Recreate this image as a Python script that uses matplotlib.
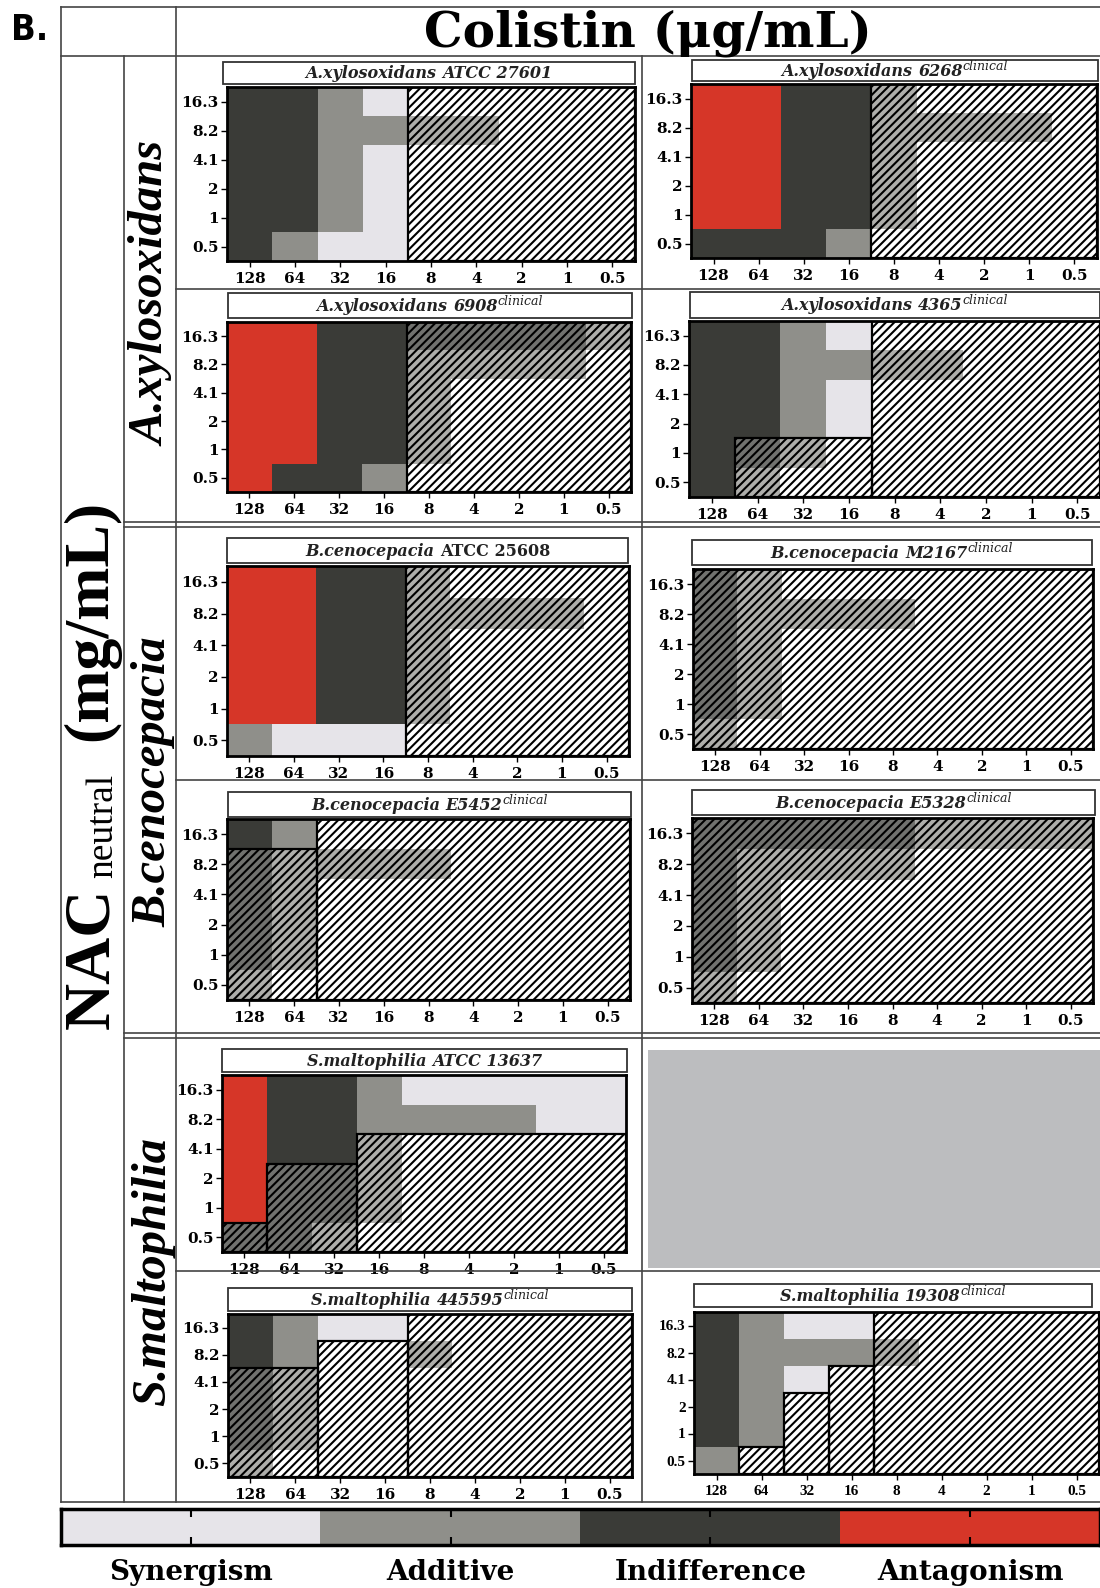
import numpy as np
import matplotlib
matplotlib.use("Agg")
import matplotlib.pyplot as plt
from matplotlib.colors import ListedColormap, to_rgb
from matplotlib.patches import Rectangle
from matplotlib.lines import Line2D

plt.rcParams['font.family'] = ['DejaVu Serif']
plt.rcParams['mathtext.fontset'] = 'dejavuserif'
plt.rcParams['hatch.linewidth'] = 1.5

# ---------------- data ----------------
colistin_ticks = ['128', '64', '32', '16', '8', '4', '2', '1', '0.5']
nac_ticks = ['16.3', '8.2', '4.1', '2', '1', '0.5']          # top -> bottom
categories = ['Synergism', 'Additive', 'Indifference', 'Antagonism']
title_species = ['A.xylosoxidans', 'A.xylosoxidans', 'A.xylosoxidans', 'A.xylosoxidans',
                 'B.cenocepacia', 'B.cenocepacia', 'B.cenocepacia', 'B.cenocepacia',
                 'S.maltophilia', 'S.maltophilia', 'S.maltophilia']
title_strain = ['ATCC 27601', '6268', '6908', '4365', 'ATCC 25608', 'M2167', 'E5452',
                'E5328', 'ATCC 13637', '445595', '19308']
title_sup = ['', 'clinical', 'clinical', 'clinical', '', 'clinical', 'clinical',
             'clinical', '', 'clinical', 'clinical']
strain_italic = [True, True, True, True, False, True, True, True, True, True, True]

# codes: 0 synergism, 1 additive, 2 indifference, 3 antagonism, -1 none
grid_27601 = [[2, 2, 1, 0, -1, -1, -1, -1, -1],
              [2, 2, 1, 1, 1, 1, -1, -1, -1],
              [2, 2, 1, 0, -1, -1, -1, -1, -1],
              [2, 2, 1, 0, -1, -1, -1, -1, -1],
              [2, 2, 1, 0, -1, -1, -1, -1, -1],
              [2, 1, 0, 0, -1, -1, -1, -1, -1]]
hatch_27601 = [0, 0, 0, 0, 6, 6, 6, 6, 6]

grid_6268 = [[3, 3, 2, 2, 1, -1, -1, -1, -1],
             [3, 3, 2, 2, 1, 1, 1, 1, -1],
             [3, 3, 2, 2, 1, -1, -1, -1, -1],
             [3, 3, 2, 2, 1, -1, -1, -1, -1],
             [3, 3, 2, 2, 1, -1, -1, -1, -1],
             [2, 2, 2, 1, -1, -1, -1, -1, -1]]
hatch_6268 = [0, 0, 0, 0, 6, 6, 6, 6, 6]

grid_6908 = [[3, 3, 2, 2, 2, 2, 2, 2, 1],
             [3, 3, 2, 2, 1, 1, 1, 1, -1],
             [3, 3, 2, 2, 1, -1, -1, -1, -1],
             [3, 3, 2, 2, 1, -1, -1, -1, -1],
             [3, 3, 2, 2, 1, -1, -1, -1, -1],
             [3, 2, 2, 1, -1, -1, -1, -1, -1]]
hatch_6908 = [0, 0, 0, 0, 6, 6, 6, 6, 6]

grid_4365 = [[2, 2, 1, 0, -1, -1, -1, -1, -1],
             [2, 2, 1, 1, 1, 1, -1, -1, -1],
             [2, 2, 1, 0, -1, -1, -1, -1, -1],
             [2, 2, 1, 0, -1, -1, -1, -1, -1],
             [2, 2, 1, -1, -1, -1, -1, -1, -1],
             [2, 1, -1, -1, -1, -1, -1, -1, -1]]
hatch_4365 = [0, 2, 2, 2, 6, 6, 6, 6, 6]

grid_25608 = [[3, 3, 2, 2, 1, -1, -1, -1, -1],
              [3, 3, 2, 2, 1, 1, 1, 1, -1],
              [3, 3, 2, 2, 1, -1, -1, -1, -1],
              [3, 3, 2, 2, 1, -1, -1, -1, -1],
              [3, 3, 2, 2, 1, -1, -1, -1, -1],
              [1, 0, 0, 0, -1, -1, -1, -1, -1]]
hatch_25608 = [0, 0, 0, 0, 6, 6, 6, 6, 6]

grid_M2167 = [[2, 1, -1, -1, -1, -1, -1, -1, -1],
              [2, 1, 1, 1, 1, -1, -1, -1, -1],
              [2, 1, -1, -1, -1, -1, -1, -1, -1],
              [2, 1, -1, -1, -1, -1, -1, -1, -1],
              [2, 1, -1, -1, -1, -1, -1, -1, -1],
              [1, -1, -1, -1, -1, -1, -1, -1, -1]]
hatch_M2167 = [6, 6, 6, 6, 6, 6, 6, 6, 6]

grid_E5452 = [[2, 1, -1, -1, -1, -1, -1, -1, -1],
              [2, 1, 1, 1, 1, -1, -1, -1, -1],
              [2, 1, -1, -1, -1, -1, -1, -1, -1],
              [2, 1, -1, -1, -1, -1, -1, -1, -1],
              [2, 1, -1, -1, -1, -1, -1, -1, -1],
              [1, -1, -1, -1, -1, -1, -1, -1, -1]]
hatch_E5452 = [5, 5, 6, 6, 6, 6, 6, 6, 6]

grid_E5328 = [[2, 2, 2, 2, 2, 1, 1, 1, 1],
              [2, 1, 1, 1, 1, -1, -1, -1, -1],
              [2, 1, -1, -1, -1, -1, -1, -1, -1],
              [2, 1, -1, -1, -1, -1, -1, -1, -1],
              [2, 1, -1, -1, -1, -1, -1, -1, -1],
              [1, -1, -1, -1, -1, -1, -1, -1, -1]]
hatch_E5328 = [6, 6, 6, 6, 6, 6, 6, 6, 6]

grid_13637 = [[3, 2, 2, 1, 0, 0, 0, 0, 0],
              [3, 2, 2, 1, 1, 1, 1, 0, 0],
              [3, 2, 2, 1, -1, -1, -1, -1, -1],
              [3, 2, 2, 1, -1, -1, -1, -1, -1],
              [3, 2, 2, 1, -1, -1, -1, -1, -1],
              [2, 2, 1, -1, -1, -1, -1, -1, -1]]
hatch_13637 = [1, 3, 3, 4, 4, 4, 4, 4, 4]

grid_445595 = [[2, 1, 0, 0, -1, -1, -1, -1, -1],
               [2, 1, -1, -1, 1, -1, -1, -1, -1],
               [2, 1, -1, -1, -1, -1, -1, -1, -1],
               [2, 1, -1, -1, -1, -1, -1, -1, -1],
               [2, 1, -1, -1, -1, -1, -1, -1, -1],
               [1, -1, -1, -1, -1, -1, -1, -1, -1]]
hatch_445595 = [4, 4, 5, 5, 6, 6, 6, 6, 6]

grid_19308 = [[2, 1, 0, 0, -1, -1, -1, -1, -1],
              [2, 1, 1, 1, 1, -1, -1, -1, -1],
              [2, 1, 0, -1, -1, -1, -1, -1, -1],
              [2, 1, -1, -1, -1, -1, -1, -1, -1],
              [2, 1, -1, -1, -1, -1, -1, -1, -1],
              [1, -1, -1, -1, -1, -1, -1, -1, -1]]
hatch_19308 = [0, 1, 3, 4, 6, 6, 6, 6, 6]

grids = [grid_27601, grid_6268, grid_6908, grid_4365, grid_25608, grid_M2167,
         grid_E5452, grid_E5328, grid_13637, grid_445595, grid_19308]
hatches = [hatch_27601, hatch_6268, hatch_6908, hatch_4365, hatch_25608, hatch_M2167,
           hatch_E5452, hatch_E5328, hatch_13637, hatch_445595, hatch_19308]

# ---------------- style / layout ----------------
cat_colors = ['#e6e4e9', '#8f8f8a', '#3a3b37', '#d63628']
fade = 0.72
faded_colors = [tuple(fade * np.array(to_rgb(c)) + (1 - fade)) for c in cat_colors]
cmap = ListedColormap(cat_colors)
cmap_faded = ListedColormap(faded_colors)

heat_boxes = [(227, 87, 635, 261), (691, 84, 1097, 258),
              (227, 322, 631, 492), (689, 321, 1100, 497),
              (227, 566, 629, 756), (693, 569, 1093, 749),
              (227, 819, 630, 1000), (692, 818, 1093, 1003),
              (222, 1075, 626, 1252),
              (228, 1314, 632, 1477), (694, 1312, 1099, 1474)]
title_boxes = [(223, 62, 635, 84), (692, 60, 1098, 81),
               (228, 293, 632, 318), (690, 292, 1100, 318),
               (227, 538, 628, 563), (692, 540, 1092, 565),
               (228, 792, 631, 817), (692, 790, 1095, 815),
               (222, 1049, 627, 1072),
               (228, 1288, 632, 1311), (694, 1284, 1092, 1307)]

W, H = 1100, 1588
fig = plt.figure(figsize=(W / 100, H / 100), dpi=100)
fig.patch.set_facecolor('white')
renderer = fig.canvas.get_renderer()


def fx(px):
    return px / W


def fy(py):
    return 1 - py / H


def add_ax(box):
    x0, y0, x1, y1 = box
    return fig.add_axes([fx(x0), fy(y1), (x1 - x0) / W, (y1 - y0) / H])


def draw_title(i):
    x0, y0, x1, y1 = title_boxes[i]
    fig.add_artist(Rectangle((fx(x0), fy(y1)), (x1 - x0) / W, (y1 - y0) / H,
                             transform=fig.transFigure, facecolor='white',
                             edgecolor='#333333', linewidth=1.3))
    yc = fy((y0 + y1) / 2 + 1)
    parts = [(title_species[i] + ' ', 'italic', 11.5, 0)]
    parts.append((title_strain[i], 'italic' if strain_italic[i] else 'normal', 11.5, 0))
    if title_sup[i]:
        parts.append((title_sup[i], 'italic', 9, 5))
    texts = []
    widths = []
    for s, st, fs, dy in parts:
        t = fig.text(0, yc + dy / H, s, ha='left', va='center', fontsize=fs,
                     weight='bold' if fs > 10 else 'normal', style=st, color='#222222')
        texts.append(t)
        widths.append(t.get_window_extent(renderer).width)
    total = sum(widths)
    x = (x0 + x1) / 2 - total / 2
    for t, w in zip(texts, widths):
        t.set_x(fx(x))
        x += w


def draw_panel(i):
    grid = np.array(grids[i])[::-1]
    thr = np.array(hatches[i])
    nr, nc = grid.shape
    ax = add_ax(heat_boxes[i])
    rows = np.arange(nr)[:, None]
    hatched = rows < thr[None, :]
    solid = np.ma.masked_where((grid < 0) | hatched, grid)
    faded = np.ma.masked_where((grid < 0) | ~hatched, grid)
    xe = np.arange(nc + 1) - 0.5
    ye = np.arange(nr + 1) - 0.5
    ax.pcolormesh(xe, ye, solid, cmap=cmap, vmin=-0.5, vmax=3.5)
    ax.pcolormesh(xe, ye, faded, cmap=cmap_faded, vmin=-0.5, vmax=3.5)
    c = 0
    while c < nc:
        t = thr[c]
        start = c
        while c < nc and thr[c] == t:
            c += 1
        if t > 0:
            ax.bar((start + c - 1) / 2, t, width=c - start, bottom=-0.5,
                   fill=False, hatch='////', edgecolor='black', linewidth=1.6, zorder=3)
    ax.set_xlim(-0.5, nc - 0.5)
    ax.set_ylim(-0.5, nr - 0.5)
    ax.set_xticks(range(nc))
    ax.set_yticks(range(nr))
    if i == 10:
        fkw = dict(family='Liberation Serif', weight='bold', size=11)
    else:
        fkw = dict(family='DejaVu Serif', weight='bold', size=11)
    ax.set_xticklabels(colistin_ticks, **fkw)
    ax.set_yticklabels(nac_ticks[::-1], **fkw)
    ax.tick_params(length=4, width=1, pad=2)
    ax.tick_params(axis='x', pad=4)
    for s in ax.spines.values():
        s.set_linewidth(2)
    draw_title(i)


for i in range(len(grids)):
    draw_panel(i)

# gray empty panel
fig.add_artist(Rectangle((fx(648), fy(1268)), (1100 - 648) / W, (1268 - 1050) / H,
                         transform=fig.transFigure, facecolor='#bcbdbf', edgecolor='none'))


def hline(y, xa, xb, lw=1.2):
    fig.add_artist(Line2D([fx(xa), fx(xb)], [fy(y), fy(y)], color='#444444', lw=lw))


def vline(x, ya, yb, lw=1.2):
    fig.add_artist(Line2D([fx(x), fx(x)], [fy(ya), fy(yb)], color='#444444', lw=lw))


hline(7, 61, 1100)
hline(56, 61, 1100)
hline(1502, 61, 1100)
vline(61, 7, 1502)
vline(176, 7, 1502)
vline(124, 56, 1502)
vline(642, 56, 1502)
for y in (289, 780, 1271):
    hline(y, 176, 1100)
for y in (522, 527, 1033, 1038):
    hline(y, 124, 1100)

# headers
fig.text(fx(30), fy(30), 'B.', ha='center', va='center', fontsize=26,
         weight='bold', family='DejaVu Sans', stretch='condensed')
fig.text(fx(648), fy(33), 'Colistin (μg/mL)', ha='center', va='center',
         fontsize=35, weight='bold', family='DejaVu Serif')
fig.text(fx(92), fy(958), 'NAC', rotation=90, ha='center', va='center',
         fontsize=47, weight='bold', family='Liberation Serif')
fig.text(fx(103), fy(826), 'neutral', rotation=90, ha='center', va='center',
         fontsize=27, family='Liberation Serif')
fig.text(fx(91), fy(620), '(mg/mL)', rotation=90, ha='center', va='center',
         fontsize=46, weight='bold', family='Liberation Serif')
species = ['A.xylosoxidans', 'B.cenocepacia', 'S.maltophilia']
species_y = [294, 782, 1271]
for s, y in zip(species, species_y):
    fig.text(fx(153), fy(y), s, rotation=90, ha='center', va='center',
             fontsize=35, weight='bold', style='italic', family='Liberation Serif')

# legend colour bar
cax = add_ax((61, 1509, 1100, 1545))
cax.imshow(np.arange(len(categories))[None, :], cmap=cmap, aspect='auto',
           vmin=-0.5, vmax=3.5, extent=(-0.5, 3.5, -0.5, 0.5))
cax.set_xticks(range(len(categories)))
cax.set_yticks([])
cax.set_xticklabels([])
cax.tick_params(axis='x', direction='in', length=6, width=1.5, top=True, bottom=True)
for s in cax.spines.values():
    s.set_linewidth(2.5)
for k, lab in enumerate(categories):
    cx = 61 + (1100 - 61) * (k + 0.5) / len(categories)
    fig.text(fx(cx), fy(1572), lab, ha='center', va='center', fontsize=20,
             weight='bold', family='DejaVu Serif')

fig.savefig('out.png', dpi=100)
